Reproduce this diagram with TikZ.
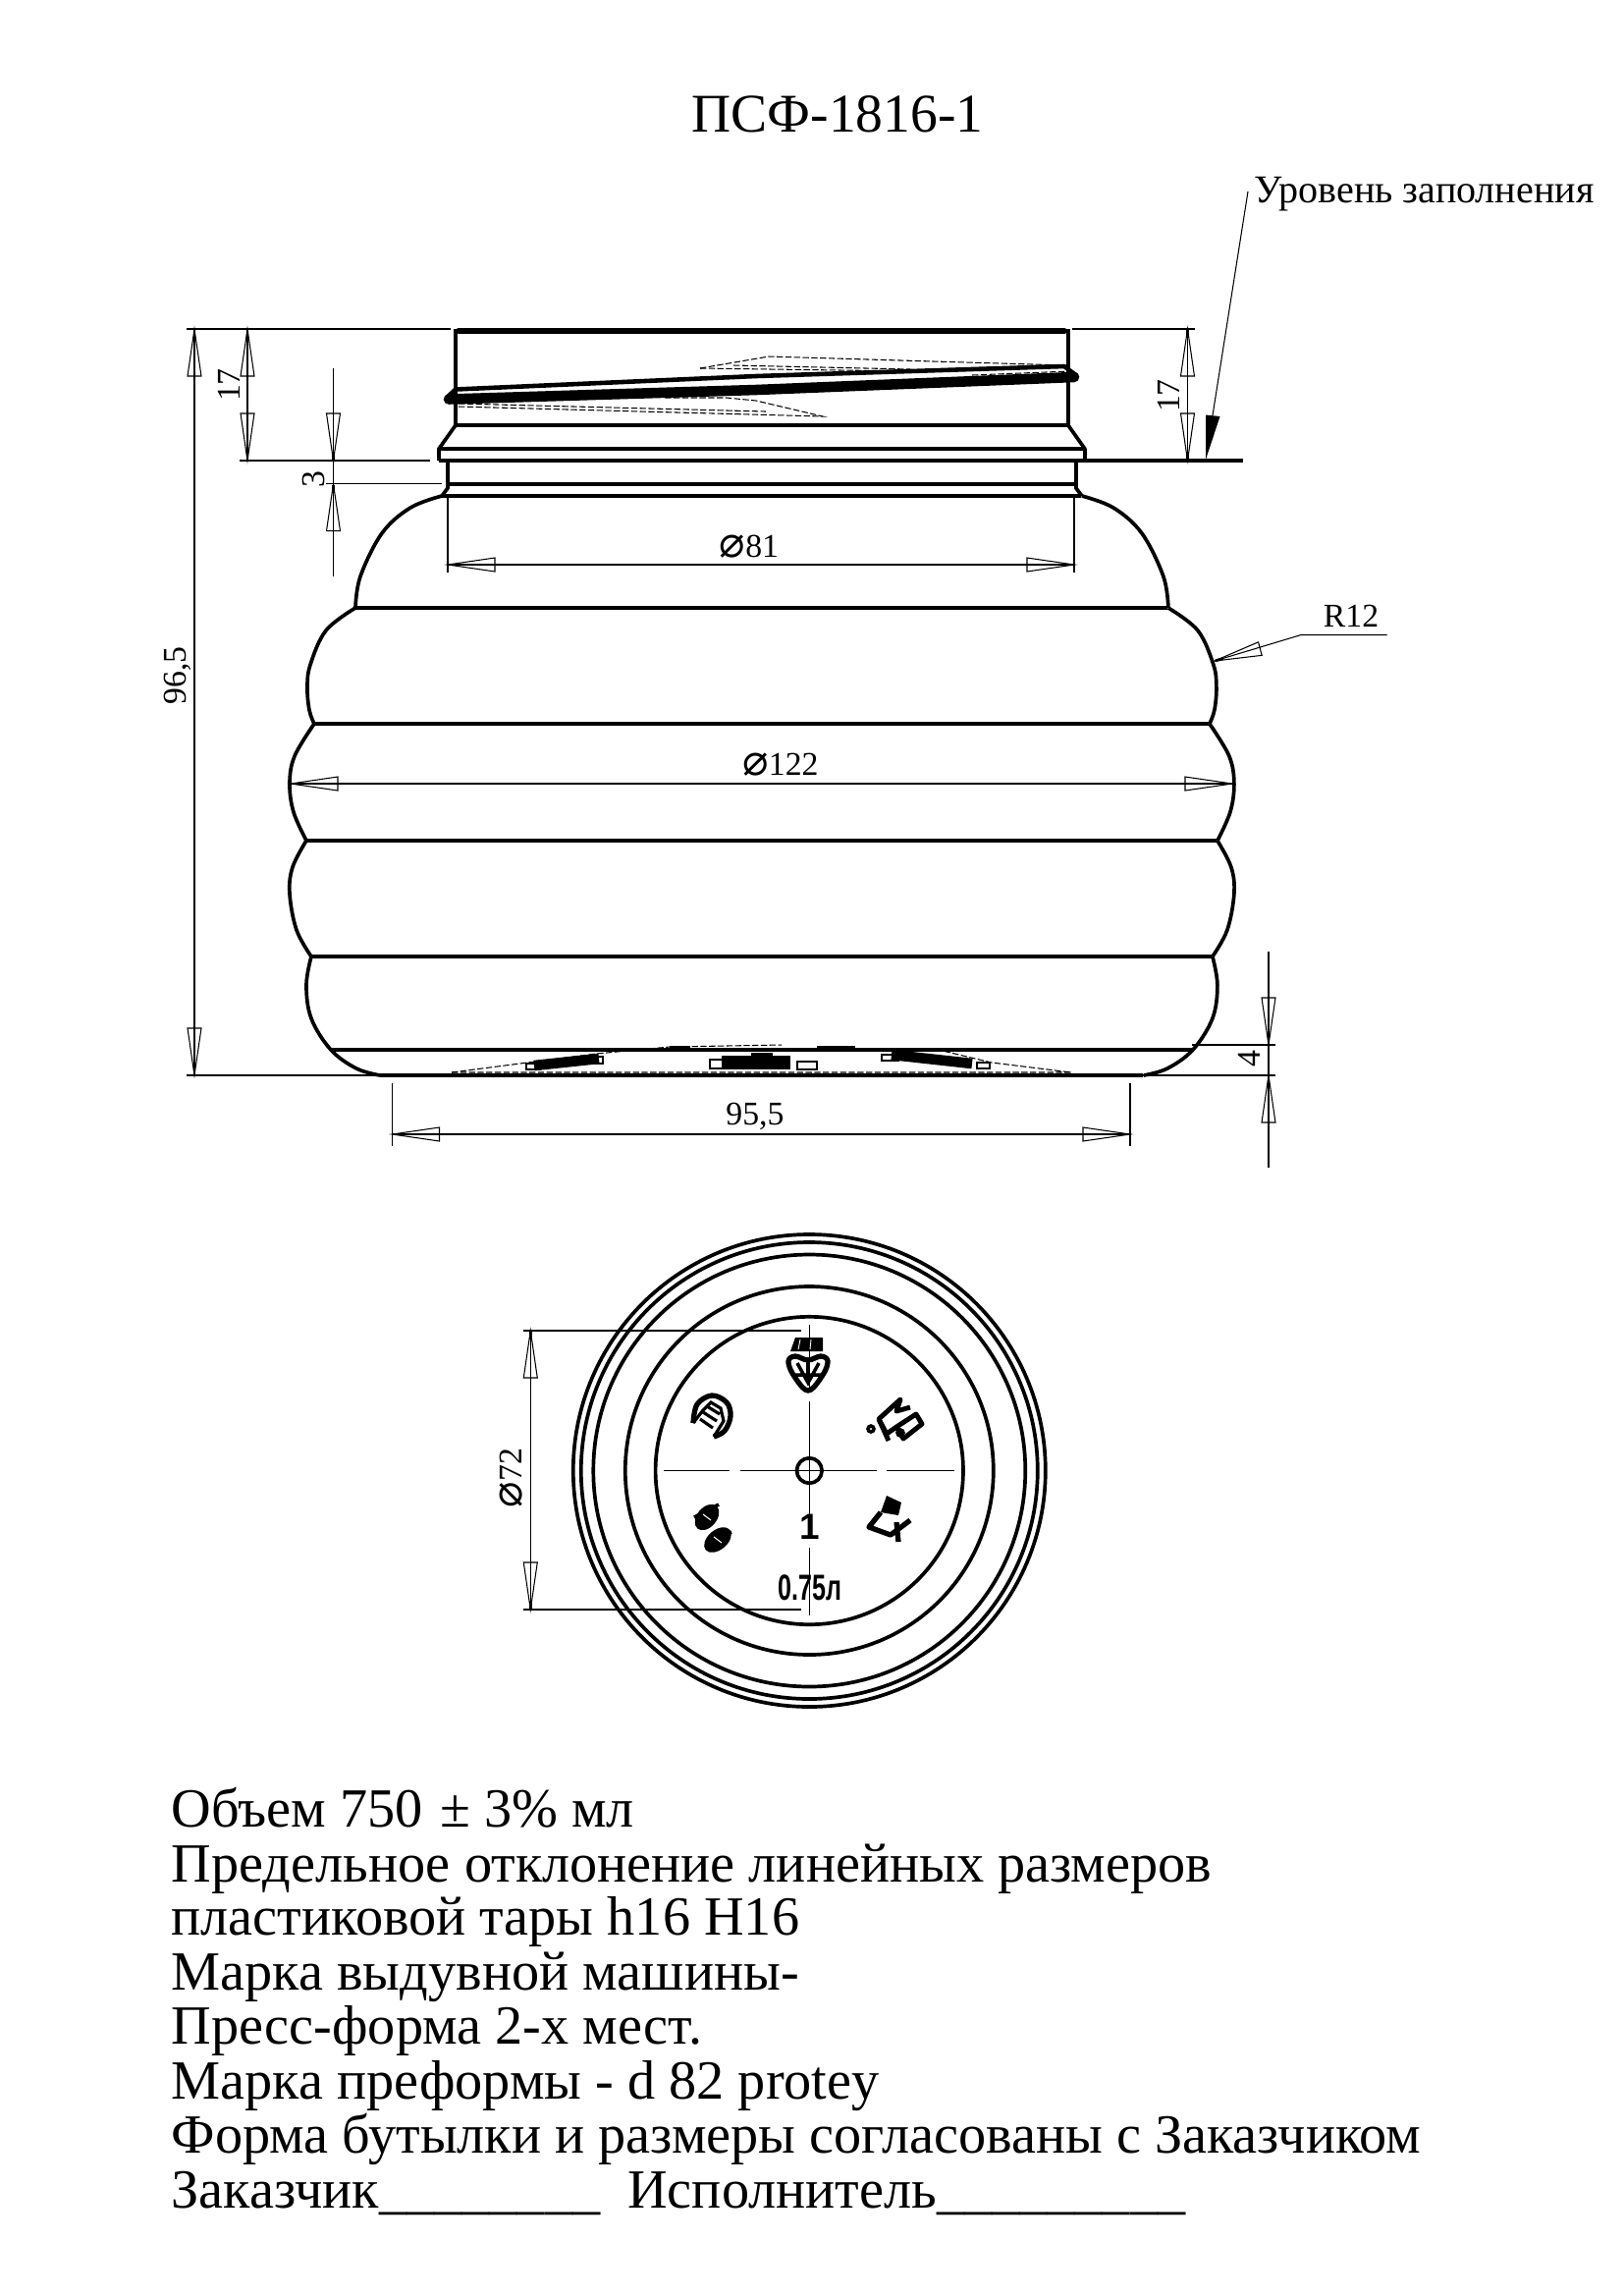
\documentclass[tikz,border=0pt]{standalone}
\usepackage{fontspec}
\setmainfont{Liberation Serif}
\newfontfamily\DiaFont{DejaVu Sans}
\newfontfamily\MarkFont{Liberation Sans}
\usetikzlibrary{positioning}
\newcommand{\DiaMark}{{\fontsize{12.5pt}{12.5pt}\DiaFont ⌀}}
\tikzset{
  BodyLine/.style={line width=1.05pt, line join=round},
  HeavyLine/.style={line width=1.7pt, line cap=round},
  ThinLine/.style={line width=0.3pt},
  HiddenLine/.style={line width=0.3pt, dash pattern=on 1.8pt off 0.7pt},
  DimText/.style={inner sep=0pt, font=\fontsize{9.6pt}{11pt}\selectfont},
  NoteText/.style={inner sep=0pt, anchor=base west, font=\fontsize{16pt}{18pt}\selectfont},
  MarkText/.style={inner sep=0pt, font=\fontsize{10.5pt}{12pt}\MarkFont\bfseries},
  pics/DimTip/.style={code={
    \draw[ThinLine] (0,0) -- (48,-7) -- (48,7) -- cycle;
    \draw[line width=0.8pt] (1,0) -- (9,0);
  }},
}
% left half of the bottle, drawn a second time mirrored
\newcommand{\BottleSide}{
  \draw[BodyLine] (464,335) -- (464,433) -- (447,457) -- (447,469);
  \draw[BodyLine] (456,469) -- (456,497) -- (450,505);
  \draw[BodyLine] plot[smooth,tension=.6] coordinates {(450,505) (418,517) (389,543) (367,587) (362,619)};
  \draw[BodyLine] plot[smooth,tension=.6] coordinates {(362,619) (332,642) (316,677) (313,700) (315,723) (320,737)};
  \draw[BodyLine] plot[smooth,tension=.6] coordinates {(320,737) (300,770) (295,798) (299,827) (312,856)};
  \draw[BodyLine] plot[smooth,tension=.6] coordinates {(312,856) (298,883) (295,910) (302,947) (317,974)};
  \draw[BodyLine] plot[smooth,tension=.6] coordinates {(317,974) (312,1003) (317,1037) (337,1069) (363,1088) (387,1095)};
}
\begin{document}
\begin{tikzpicture}[x=0.01cm,y=-0.01cm]
\useasboundingbox (0,0) rectangle (1653,2338);
\node[inner sep=0pt, anchor=base, font=\fontsize{15.8pt}{18pt}\selectfont] (title) at (853,134) {ПСФ-1816-1};
% bottle
\BottleSide
\begin{scope}[xshift=15.51cm,xscale=-1]
\BottleSide
\end{scope}
\draw[HeavyLine] (467,337) -- (1084,337);
\draw[BodyLine] (464,433) -- (1087,433);
\draw[BodyLine] (447,457) -- (1104,457);
\draw[BodyLine] (447,469) -- (1266,469);
\draw[BodyLine] (456,493) -- (1095,493);
\draw[BodyLine] (450,505) -- (1101,505);
\draw[BodyLine] (362,619) -- (1189,619);
\draw[BodyLine] (320,737) -- (1231,737);
\draw[BodyLine] (312,856) -- (1239,856);
\draw[BodyLine] (317,974) -- (1234,974);
\draw[BodyLine] (337,1069) -- (1214,1069);
\draw[BodyLine] (387,1095) -- (1164,1095);
% thread
\draw[line width=3pt, line cap=round] (457,406.5) -- (770,397) -- (1094,384);
\draw[line width=1.3pt, line join=round] (456,404) -- (464,396.5) -- (770,383) -- (1084,373) -- (1097,383);
\draw[HiddenLine] (467,411) -- (780,419);
\draw[HiddenLine] (467,414) -- (838,424) -- (770,408) -- (740,405) -- (677,405);
\draw[HiddenLine] (713,375) -- (783,363) -- (1085,372);
\draw[HiddenLine] (713,375) -- (927,378);
\draw[HiddenLine] (747,372) -- (927,376);
\draw[HiddenLine] (990,382) -- (1090,378);
% base marks
\draw[HiddenLine] (460,1092) -- (1091,1092) -- (1010,1082) -- (960,1070);
\draw[HiddenLine] (460,1092) -- (607,1073) -- (682,1066) -- (796,1064);
\draw[line width=0.9pt] (682,1067) -- (703,1067) (832,1067) -- (871,1067);
\draw[line width=3pt] (544,1085) -- (610,1078);
\draw[ThinLine] (536,1083) rectangle (550,1089) (605,1076) rectangle (614,1083);
\draw[line width=4pt] (735,1082) -- (805,1082);
\draw[line width=1.4pt] (765,1074) -- (787,1074);
\draw[ThinLine] (723,1079) rectangle (745,1088) (812,1081) rectangle (832,1089);
\draw[line width=3pt] (908,1074) -- (990,1083);
\draw[ThinLine] (898,1074) rectangle (915,1080) (995,1082) rectangle (1008,1088);
% dimensions
\draw[ThinLine] (190,335) -- (459,335) (1092,335) -- (1217,335);
\draw[ThinLine] (190,1095) -- (387,1095) (1164,1095) -- (1299,1095);
\draw[ThinLine] (198,335) -- (198,1095);
\pic[rotate=-90] at (198,335) {DimTip};
\pic[rotate=90] at (198,1095) {DimTip};
\node[DimText, rotate=90] (hFull) at (181,688) {96,5};
\draw[ThinLine] (244,469) -- (438,469) (252,335) -- (252,469);
\pic[rotate=-90] at (252,335) {DimTip};
\pic[rotate=90] at (252,469) {DimTip};
\node[DimText, rotate=90] (hNeckL) at (233,392) {17};
\draw[ThinLine] (339.5,375) -- (339.5,587) (332,492.7) -- (450,492.7);
\pic[rotate=90] at (339.5,469) {DimTip};
\pic[rotate=-90] at (339.5,492.7) {DimTip};
\node[DimText, rotate=90] (hRing) at (319,488) {3};
\draw[ThinLine] (456,505) -- (456,583) (1094,505) -- (1094,583) (456,575) -- (1094,575);
\pic at (456,575) {DimTip};
\pic[rotate=180] at (1094,575) {DimTip};
\node[DimText] (dNeck) at (763,557) {\DiaMark 81};
\draw[ThinLine] (1209.5,335) -- (1209.5,469);
\pic[rotate=-90] at (1209.5,335) {DimTip};
\pic[rotate=90] at (1209.5,469) {DimTip};
\node[DimText, rotate=90] (hNeckR) at (1190,403) {17};
\draw[ThinLine] (295,798) -- (1256,798);
\pic at (296,798) {DimTip};
\pic[rotate=180] at (1255,798) {DimTip};
\node[DimText] (dBody) at (795,779) {\DiaMark 122};
\draw[ThinLine] (399.5,1103) -- (399.5,1167) (1151,1103) -- (1151,1167) (399.5,1155) -- (1151,1155);
\pic at (399.5,1155) {DimTip};
\pic[rotate=180] at (1151,1155) {DimTip};
\node[DimText] (dBase) at (769,1137) {95,5};
\draw[ThinLine] (1214,1064) -- (1299,1064) (1292,969) -- (1292,1189);
\pic[rotate=90] at (1292,1064) {DimTip};
\pic[rotate=-90] at (1292,1095) {DimTip};
\node[DimText, rotate=90] (hBase) at (1272,1078) {4};
% leaders
\draw[ThinLine] (1237,673) -- (1325,646.5) -- (1412.5,646.5);
\pic[rotate=15] at (1237,673) {DimTip};
\node[DimText] (radius) at (1376,627) {R12};
\fill (1228,468) -- (1228,422.5) -- (1242.5,424) -- cycle;
\draw[ThinLine] (1235,423) -- (1271,195);
\node[DimText, anchor=west, font=\fontsize{11.4pt}{13pt}\selectfont] (level) at (1277,198) {Уровень заполнения};
% bottom view
\foreach \r in {240.5,232.5,220,187.5,156.7}
  \draw[BodyLine] (824.3,1497.5) circle (\r*0.01cm);
\draw[BodyLine] (824.3,1497.5) circle (0.128cm);
\draw[ThinLine] (676,1497.5) -- (743.3,1497.5) (754,1497.5) -- (892.7,1497.5) (903,1497.5) -- (971.7,1497.5);
\draw[ThinLine] (824.3,1349) -- (824.3,1416.7) (824.3,1426.7) -- (824.3,1542) (824.3,1576) -- (824.3,1645);
\draw[ThinLine] (533,1355) -- (815.7,1355) (533,1639) -- (815.7,1639) (540.3,1355) -- (540.3,1639);
\pic[rotate=-90] at (540.3,1355) {DimTip};
\pic[rotate=90] at (540.3,1639) {DimTip};
\node[DimText, rotate=90] (dBottom) at (521,1505) {\DiaMark 72};
% moulded marks
\fill (805,1376) -- (810,1362) -- (838,1362) -- (838,1376) -- cycle;
\draw[white, line width=0.25pt] (815,1364) -- (813,1374) (826,1364) -- (825,1374);
\draw[line width=1.5pt, line join=round] plot[smooth cycle,tension=.6] coordinates {(803,1386) (810,1381) (823,1385) (836,1381) (843,1386) (838,1400) (823,1416) (808,1400)};
\draw[line width=1pt] (823,1384) -- (823,1408) (808,1400) -- (838,1400) (812,1388) -- (823,1408) -- (834,1388);
\draw[line width=1.4pt, line join=round] (905,1467) -- (895,1445) -- (917,1425) -- (913,1437) -- (927,1433);
\draw[line width=1.4pt, line join=round] (895,1445) -- (903,1460) -- (913,1453) (913,1453) -- (933,1440) -- (939,1450) -- (920,1465) -- cycle;
\draw[line width=1pt] (887,1455) circle (0.03cm) (917,1459) circle (0.03cm);
\fill (903,1523) -- (918,1530) -- (915,1543) -- (897,1540) -- cycle;
\draw[line width=1.5pt, line join=round] (897,1540) -- (885,1555) -- (907,1563) -- (927,1548) (913,1550) -- (915,1570);
\fill[rotate around={50:(720,1545)}] (720,1545) ellipse (0.15cm and 0.10cm);
\fill[rotate around={40:(731,1568)}] (731,1568) ellipse (0.16cm and 0.10cm);
\draw[line width=1pt] (707,1545) -- (732,1532) (722,1570) -- (745,1560);
\draw[white, line width=0.3pt] (716,1542) -- (724,1548) (727,1565) -- (735,1571);
\draw[line width=1.5pt, line join=round] plot[smooth,tension=.6] coordinates {(706,1449) (710,1430) (725,1421) (740,1428) (744,1442) (738,1457) (727,1463)};
\draw[line width=0.9pt] (720,1432) -- (733,1440) (716,1438) -- (730,1447) (713,1445) -- (726,1454) (706,1449) -- (716,1436) -- (724,1428) -- (734,1434) -- (737,1447) -- (727,1463);
\node[MarkText] (markOne) at (825,1555) {1};
\node[MarkText] (markVol) at (825,1617) {\scalebox{0.68}[1]{0.75л}};
% notes
\node[NoteText] (noteA) at (174,1860) {Объем 750\ \kern1pt ±\ 3\% мл};
\node[NoteText] (noteB) at (174,1916) {Предельное отклонение линейных размеров};
\node[NoteText] (noteC) at (174,1970) {пластиковой тары h16 H16};
\node[NoteText] (noteD) at (174,2026) {Марка выдувной машины-};
\node[NoteText] (noteE) at (174,2081) {Пресс-форма 2-х мест.};
\node[NoteText] (noteF) at (174,2137) {Марка преформы - d 82 protey};
\node[NoteText] (noteG) at (174,2192) {Форма бутылки и размеры согласованы с Заказчиком};
\node[NoteText] (noteH) at (174,2248) {Заказчик\_\_\_\_\_\_\_\_\ \ Исполнитель\_\_\_\_\_\_\_\_\_};
\end{tikzpicture}
\end{document}
